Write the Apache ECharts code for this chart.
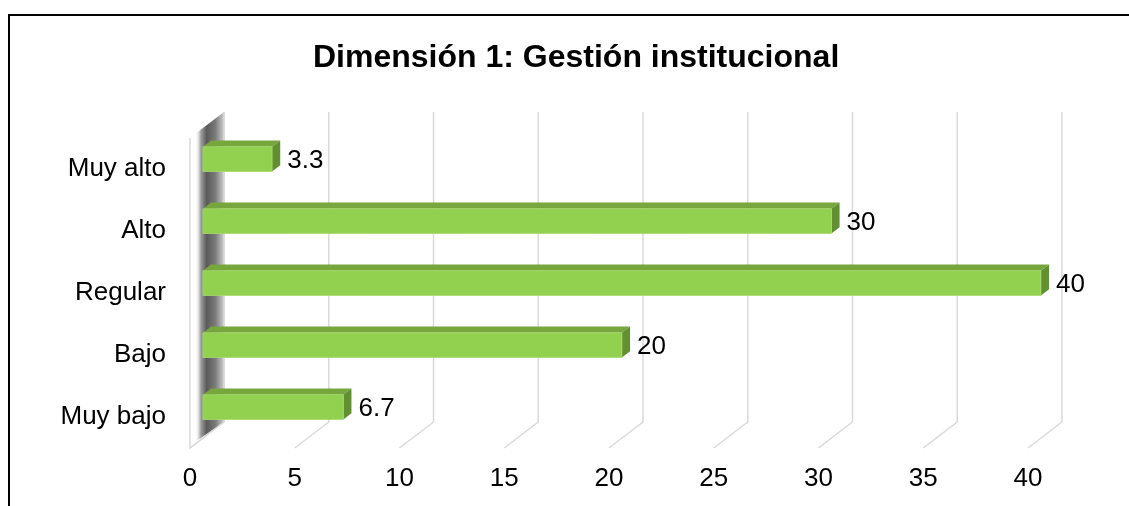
<!DOCTYPE html>
<html>
<head>
<meta charset="utf-8">
<script src="https://cdn.jsdelivr.net/npm/echarts@6/dist/echarts.min.js"></script>
<style>
  html, body { margin: 0; padding: 0; background: #fff; }
  #main { width: 1129px; height: 506px; }
</style>
</head>
<body>
<div id="main"></div>
<script>
  // categorias de abajo hacia arriba
  const categories = ['Muy bajo', 'Bajo', 'Regular', 'Alto', 'Muy alto']
  const values = [6.7, 20, 40, 30, 3.3]
  const ticks = [0, 5, 10, 15, 20, 25, 30, 35, 40]

  const FONT = '"Liberation Sans", Arial, sans-serif'
  // vector de profundidad (frente -> fondo)
  const DX = 34
  const DY = -26
  const BAR_FRONT = 0.38
  const BAR_BACK = 0.62

  const chart = echarts.init(document.getElementById('main'))

  const option = {
    animation: false,
    backgroundColor: '#fff',
    title: {
      text: 'Dimensión 1: Gestión institucional',
      left: 308,
      top: 37,
      textStyle: { fontFamily: FONT, fontSize: 32, fontWeight: 'bold', color: '#000' }
    },
    graphic: [
      {
        type: 'rect',
        shape: { x: 9, y: 15, width: 1200, height: 600 },
        style: { fill: 'none', stroke: '#000', lineWidth: 2 },
        z: 100
      }
    ],
    grid: { left: 190, right: 101, top: 138, bottom: 58 },
    xAxis: {
      type: 'value',
      min: 0,
      max: 40,
      interval: 5,
      axisLine: { show: false },
      axisTick: { show: false },
      splitLine: { show: false },
      axisLabel: { fontFamily: FONT, fontSize: 26, color: '#000', margin: 18 }
    },
    yAxis: {
      type: 'category',
      data: categories,
      axisLine: { show: false },
      axisTick: { show: false },
      splitLine: { show: false },
      axisLabel: { fontFamily: FONT, fontSize: 26, color: '#000', margin: 24 }
    },
    series: [
      {
        // lineas de division en 3D (pared del fondo + piso)
        type: 'custom',
        z: 1,
        data: ticks.map(t => [t, 0]),
        renderItem: (params, api) => {
          const cs = params.coordSys
          const xf = api.coord([api.value(0), 0])[0]
          const bot = cs.y + cs.height
          return {
            type: 'polyline',
            shape: {
              points: [
                [xf + DX, cs.y + DY],
                [xf + DX, bot + DY],
                [xf, bot]
              ]
            },
            style: { fill: 'none', stroke: '#d9d9d9', lineWidth: 1.5 }
          }
        }
      },
      {
        // pared lateral izquierda con sombra
        type: 'custom',
        z: 2,
        data: [[0, 0]],
        renderItem: (params, api) => {
          const cs = params.coordSys
          const xf = api.coord([0, 0])[0]
          const bot = cs.y + cs.height
          return {
            type: 'group',
            children: [
              {
                type: 'polygon',
                shape: {
                  points: [
                    [xf + 5, cs.y - 4],
                    [xf + DX, cs.y + DY],
                    [xf + DX, bot + DY],
                    [xf + 5, bot - 6]
                  ]
                },
                style: {
                  fill: new echarts.graphic.LinearGradient(0, 0, 1, 0, [
                    { offset: 0, color: 'rgba(255,255,255,0)' },
                    { offset: 0.2, color: '#a0a0a0' },
                    { offset: 0.4, color: '#5a5a5a' },
                    { offset: 0.7, color: '#7a7a7a' },
                    { offset: 1, color: '#cfcfcf' }
                  ])
                }
              },
              {
                type: 'polyline',
                shape: {
                  points: [
                    [xf, cs.y],
                    [xf, bot],
                    [xf + DX, bot + DY],
                    [xf + DX, cs.y + DY]
                  ]
                },
                style: { fill: 'none', stroke: '#d9d9d9', lineWidth: 1.5 }
              }
            ]
          }
        }
      },
      {
        // barras 3D
        type: 'custom',
        z: 3,
        data: values.map((v, i) => [v, i]),
        encode: { x: 0, y: 1 },
        renderItem: (params, api) => {
          const cat = api.value(1)
          const val = api.value(0)
          const p0 = api.coord([0, cat])
          const p1 = api.coord([val, cat])
          const h = api.size([0, 1])[1] * 0.4
          const fx = DX * BAR_FRONT
          const fy = DY * BAR_FRONT
          const bx = DX * BAR_BACK
          const by = DY * BAR_BACK
          const x0F = p0[0] + fx
          const x1F = p1[0] + fx
          const x0B = p0[0] + bx
          const x1B = p1[0] + bx
          const cyF = p0[1] + fy
          const topF = cyF - h / 2
          const botF = cyF + h / 2
          const topB = p0[1] + by - h / 2
          const botB = p0[1] + by + h / 2
          return {
            type: 'group',
            children: [
              {
                type: 'polygon',
                shape: { points: [[x0F, topF], [x1F, topF], [x1B, topB], [x0B, topB]] },
                style: { fill: '#76a63c' }
              },
              {
                type: 'polygon',
                shape: { points: [[x1F, topF], [x1B, topB], [x1B, botB], [x1F, botF]] },
                style: { fill: '#618f31' }
              },
              {
                type: 'rect',
                shape: { x: x0F, y: topF, width: x1F - x0F, height: h },
                style: { fill: '#92d050', stroke: '#a6da6e', lineWidth: 0.8 }
              },
              {
                type: 'text',
                style: {
                  text: String(val),
                  x: x1B + 7,
                  y: cyF + 2,
                  verticalAlign: 'middle',
                  align: 'left',
                  fontFamily: FONT,
                  fontSize: 26,
                  fill: '#000'
                }
              }
            ]
          }
        }
      }
    ]
  }

  chart.setOption(option)
</script>
</body>
</html>
